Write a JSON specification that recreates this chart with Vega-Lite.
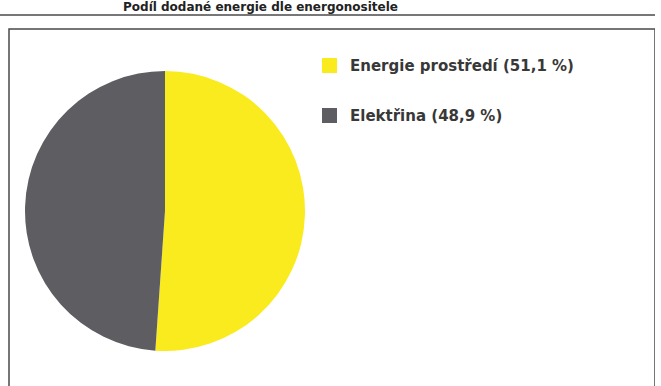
{
  "$schema": "https://vega.github.io/schema/vega-lite/v6.json",
  "autosize": "none",
  "width": 646,
  "height": 370,
  "padding": {"left": 9, "top": 29, "right": 0, "bottom": 0},
  "background": "white",
  "config": {
    "view": {"stroke": "#4a4a4a", "strokeWidth": 1.5},
    "font": "Liberation Sans"
  },
  "title": {
    "text": "Podíl dodané energie dle energonositele",
    "anchor": "start",
    "dx": 124,
    "offset": 0,
    "fontSize": 12,
    "fontWeight": "bold",
    "color": "#222222",
    "font": "DejaVu Sans"
  },
  "data": {
    "values": [
      {"kategorie": "Energie prostředí (51,1 %)", "podil": 51.1, "poradi": 1},
      {"kategorie": "Elektřina (48,9 %)", "podil": 48.9, "poradi": 2}
    ]
  },
  "layer": [
    {
      "mark": {"type": "arc", "outerRadius": 140, "stroke": null},
      "encoding": {
        "theta": {"field": "podil", "type": "quantitative", "stack": true},
        "order": {"field": "poradi", "type": "quantitative"},
        "x": {"datum": 156, "type": "quantitative", "scale": {"domain": [0, 646], "nice": false, "zero": false}, "axis": null},
        "y": {"datum": 182, "type": "quantitative", "scale": {"domain": [0, 370], "nice": false, "zero": false, "reverse": true}, "axis": null},
        "color": {
          "field": "kategorie",
          "type": "nominal",
          "scale": {
            "domain": ["Energie prostředí (51,1 %)", "Elektřina (48,9 %)"],
            "range": ["#FAEB1E", "#5E5D62"]
          },
          "legend": {
            "orient": "none",
            "legendX": 313,
            "legendY": 29,
            "title": null,
            "symbolType": "square",
            "symbolSize": 225,
            "symbolStrokeWidth": 0,
            "labelFont": "DejaVu Sans",
            "labelFontSize": 15,
            "labelFontWeight": "bold",
            "labelColor": "#383838",
            "labelOffset": 13,
            "rowPadding": 34,
            "labelLimit": 400
          }
        }
      }
    },
    {
      "mark": {"type": "rule", "color": "#777777", "strokeWidth": 2},
      "encoding": {
        "x": {"datum": -9, "type": "quantitative"},
        "x2": {"datum": 652},
        "y": {"datum": -14, "type": "quantitative"}
      }
    }
  ]
}
